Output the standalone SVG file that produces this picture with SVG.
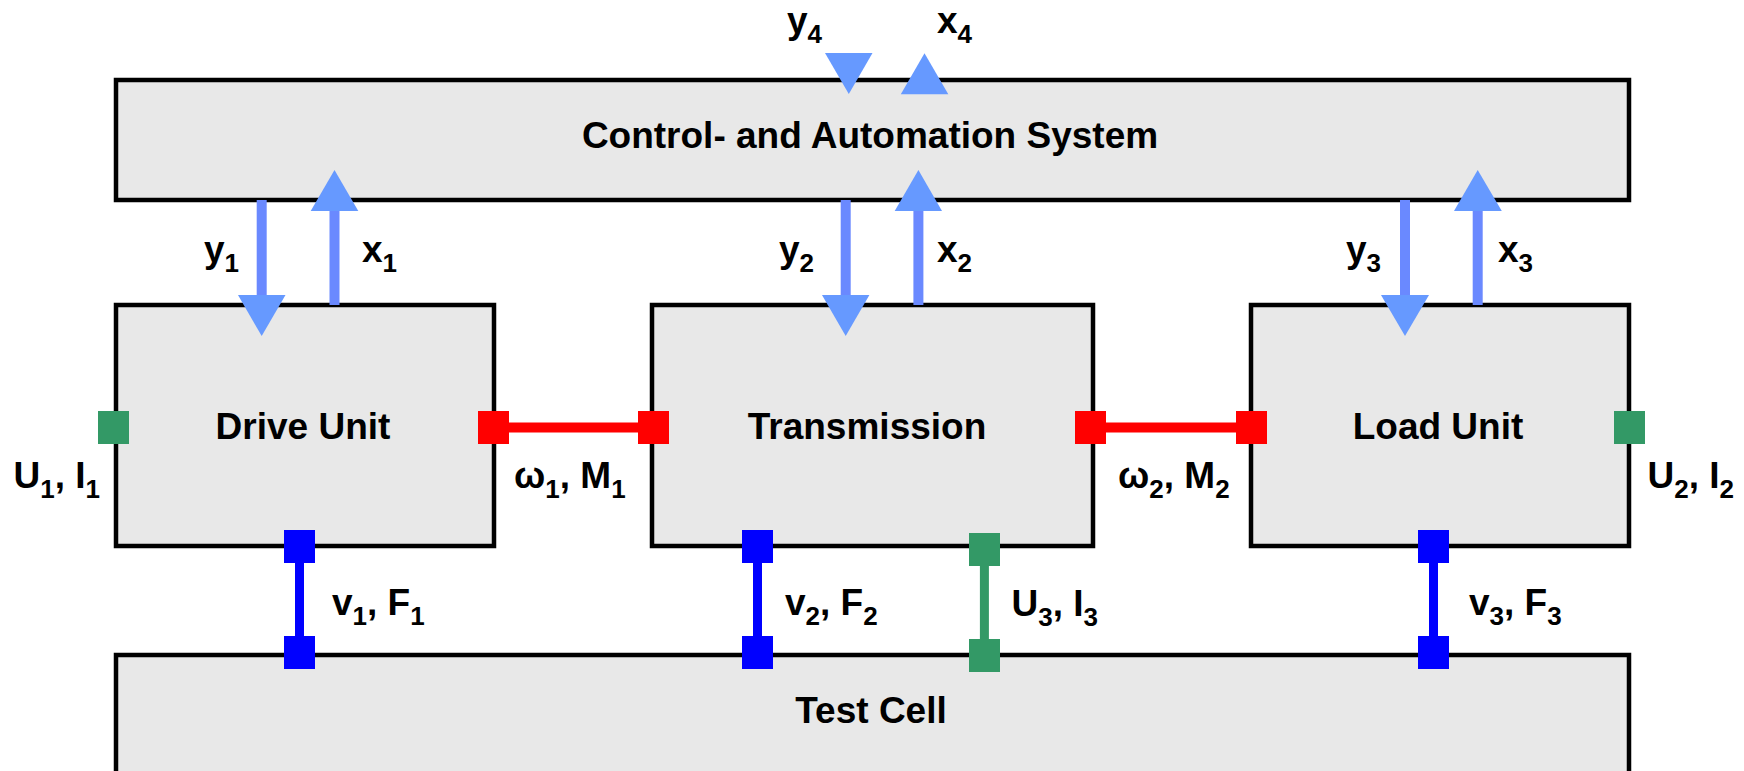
<svg xmlns="http://www.w3.org/2000/svg" width="1744" height="771" viewBox="0 0 1744 771">
<style>
.box{fill:#E8E8E8;stroke:#000;stroke-width:4.5}
.t{font-family:"Liberation Sans",Arial,sans-serif;font-weight:bold;font-size:37px;fill:#000}
.c{text-anchor:middle}
.s{font-size:26px}
.shaft{stroke:#6A89FF;stroke-width:10;fill:none}
.head{fill:#6699FF}
.red{fill:#FF0000}
.blue{fill:#0000FF}
.green{fill:#339966}
.rl{stroke:#FF0000;stroke-width:10}
.bl{stroke:#0000FF;stroke-width:9}
.gl{stroke:#339966;stroke-width:9}
</style>
<rect width="1744" height="771" fill="#fff"/>
<g id="test-cell">
<rect class="box" x="116" y="655" width="1513" height="150"/>
<text class="t c" x="871" y="723">Test Cell</text>
</g>
<g id="control-system">
<rect class="box" x="116" y="80" width="1513" height="120"/>
<text class="t c" x="870" y="148">Control- and Automation System</text>
</g>
<g id="drive-unit">
<rect class="box" x="116" y="305" width="378" height="241"/>
<text class="t c" x="303" y="439">Drive Unit</text>
</g>
<g id="transmission">
<rect class="box" x="652" y="305" width="441" height="241"/>
<text class="t c" x="867" y="439">Transmission</text>
</g>
<g id="load-unit">
<rect class="box" x="1251" y="305" width="378" height="241"/>
<text class="t c" x="1438" y="439">Load Unit</text>
</g>
<g id="connectors">
<!-- signal arrows -->
<line class="shaft" x1="261.7" y1="200" x2="261.7" y2="296"/>
<polygon class="head" points="238,295 285.5,295 261.7,336"/>
<line class="shaft" x1="334.5" y1="305" x2="334.5" y2="210"/>
<polygon class="head" points="310.7,211 358.3,211 334.5,170"/>
<line class="shaft" x1="845.7" y1="200" x2="845.7" y2="296"/>
<polygon class="head" points="822,295 869.4,295 845.7,336"/>
<line class="shaft" x1="918.4" y1="305" x2="918.4" y2="210"/>
<polygon class="head" points="894.7,211 942,211 918.4,170"/>
<line class="shaft" x1="1405" y1="200" x2="1405" y2="296"/>
<polygon class="head" points="1381,295 1429,295 1405,336"/>
<line class="shaft" x1="1477.7" y1="305" x2="1477.7" y2="210"/>
<polygon class="head" points="1454,211 1501.8,211 1477.7,170"/>
<polygon class="head" points="825,53 872.5,53 848.8,94"/>
<polygon class="head" points="900.8,94.3 948.3,94.3 924.5,53.3"/>
<!-- mechanical links -->
<line class="rl" x1="505" y1="427.5" x2="642" y2="427.5"/>
<rect class="red" x="478" y="411" width="31" height="33"/>
<rect class="red" x="638" y="411" width="31" height="33"/>
<line class="rl" x1="1100" y1="427.5" x2="1240" y2="427.5"/>
<rect class="red" x="1075" y="411" width="31" height="33"/>
<rect class="red" x="1236" y="411" width="31" height="33"/>
<!-- electrical ports -->
<rect class="green" x="98" y="411" width="31" height="33"/>
<rect class="green" x="1614" y="411" width="31" height="33"/>
<!-- test cell links -->
<line class="bl" x1="299.5" y1="560" x2="299.5" y2="640"/>
<rect class="blue" x="284" y="530" width="31" height="33"/>
<rect class="blue" x="284" y="636" width="31" height="33"/>
<line class="bl" x1="757.5" y1="560" x2="757.5" y2="640"/>
<rect class="blue" x="742" y="530" width="31" height="33"/>
<rect class="blue" x="742" y="636" width="31" height="33"/>
<line class="gl" x1="984.4" y1="563" x2="984.4" y2="643"/>
<rect class="green" x="969" y="533" width="31" height="33"/>
<rect class="green" x="969" y="639" width="31" height="33"/>
<line class="bl" x1="1433.5" y1="560" x2="1433.5" y2="640"/>
<rect class="blue" x="1418" y="530" width="31" height="33"/>
<rect class="blue" x="1418" y="636" width="31" height="33"/>
</g>
<g id="labels">
<text class="t" x="787" y="33">y<tspan class="s" dy="10">4</tspan></text>
<text class="t" x="937" y="33">x<tspan class="s" dy="10">4</tspan></text>
<text class="t" x="204" y="262">y<tspan class="s" dy="10">1</tspan></text>
<text class="t" x="362" y="262">x<tspan class="s" dy="10">1</tspan></text>
<text class="t" x="779" y="262">y<tspan class="s" dy="10">2</tspan></text>
<text class="t" x="937" y="262">x<tspan class="s" dy="10">2</tspan></text>
<text class="t" x="1346" y="262">y<tspan class="s" dy="10">3</tspan></text>
<text class="t" x="1498" y="262">x<tspan class="s" dy="10">3</tspan></text>
<text class="t" x="13.5" y="488">U<tspan class="s" dy="10">1</tspan><tspan dy="-10">, I</tspan><tspan class="s" dy="10">1</tspan></text>
<text class="t" x="514" y="488">ω<tspan class="s" dy="10">1</tspan><tspan dy="-10">, M</tspan><tspan class="s" dy="10">1</tspan></text>
<text class="t" x="1118" y="488">ω<tspan class="s" dy="10">2</tspan><tspan dy="-10">, M</tspan><tspan class="s" dy="10">2</tspan></text>
<text class="t" x="1647.5" y="488">U<tspan class="s" dy="10">2</tspan><tspan dy="-10">, I</tspan><tspan class="s" dy="10">2</tspan></text>
<text class="t" x="332" y="615">v<tspan class="s" dy="10">1</tspan><tspan dy="-10">, F</tspan><tspan class="s" dy="10">1</tspan></text>
<text class="t" x="785" y="615">v<tspan class="s" dy="10">2</tspan><tspan dy="-10">, F</tspan><tspan class="s" dy="10">2</tspan></text>
<text class="t" x="1011.5" y="616">U<tspan class="s" dy="10">3</tspan><tspan dy="-10">, I</tspan><tspan class="s" dy="10">3</tspan></text>
<text class="t" x="1469" y="615">v<tspan class="s" dy="10">3</tspan><tspan dy="-10">, F</tspan><tspan class="s" dy="10">3</tspan></text>
</g>
</svg>
